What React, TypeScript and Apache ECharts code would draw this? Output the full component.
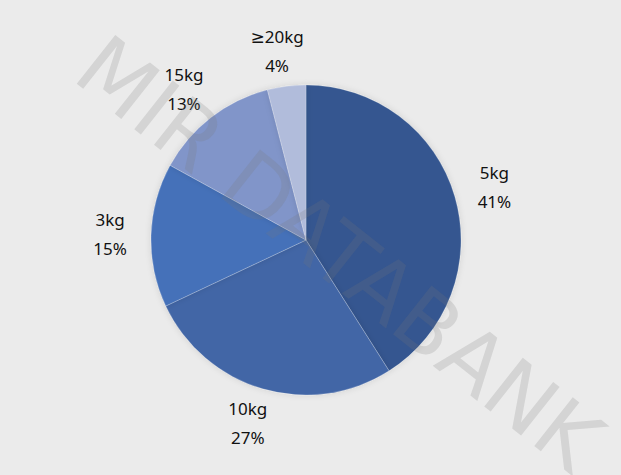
import React, { useEffect, useRef } from "react";
import * as echarts from "echarts";

const categories = ["5kg", "10kg", "3kg", "15kg", "≥20kg"];
const shares = [41, 27, 15, 13, 4];
const colors = ["#355790", "#4266a6", "#4571b9", "#8195c9", "#b1bcdb"];
const watermark = "MIR DATABANK";

export default function App() {
  const ref = useRef<HTMLDivElement>(null);
  useEffect(() => {
    document.body.style.margin = "0";
    const chart = echarts.init(ref.current!, null, { renderer: "svg" });
    chart.setOption({
      animation: false,
      backgroundColor: "#ebebeb",
      series: [
        {
          type: "pie",
          center: [306, 240],
          radius: 155,
          startAngle: 90,
          clockwise: true,
          avoidLabelOverlap: false,
          data: categories.map((c, i) => ({
            name: c,
            value: shares[i],
            itemStyle: { color: colors[i] },
          })),
          itemStyle: {
            borderColor: "rgba(255,255,255,0.35)",
            borderWidth: 0.6,
            shadowBlur: 6,
            shadowColor: "rgba(0,0,0,0.12)",
          },
          label: {
            show: true,
            position: "outside",
            formatter: (p: any) => `${p.name}\n${p.value}%`,
            fontFamily: "'Noto Sans', 'DejaVu Sans', sans-serif",
            fontSize: 17,
            lineHeight: 29,
            color: "#111",
          },
          labelLine: { show: false, length: 36, length2: 0 },
          labelLayout: () => ({ align: "center", verticalAlign: "middle" }),
          emphasis: { disabled: true },
        },
      ],
      graphic: [
        {
          type: "text",
          x: 115,
          y: 22,
          rotation: -0.67,
          silent: true,
          z: 100,
          style: {
            text: watermark,
            fontSize: 85,
            fontFamily: "'DejaVu Sans', sans-serif",
            fontWeight: "normal",
            fill: "rgba(120,120,120,0.2)",
            textVerticalAlign: "top",
          },
        },
      ],
    });
    return () => chart.dispose();
  }, []);
  return <div ref={ref} style={{ width: 621, height: 475 }} />;
}
